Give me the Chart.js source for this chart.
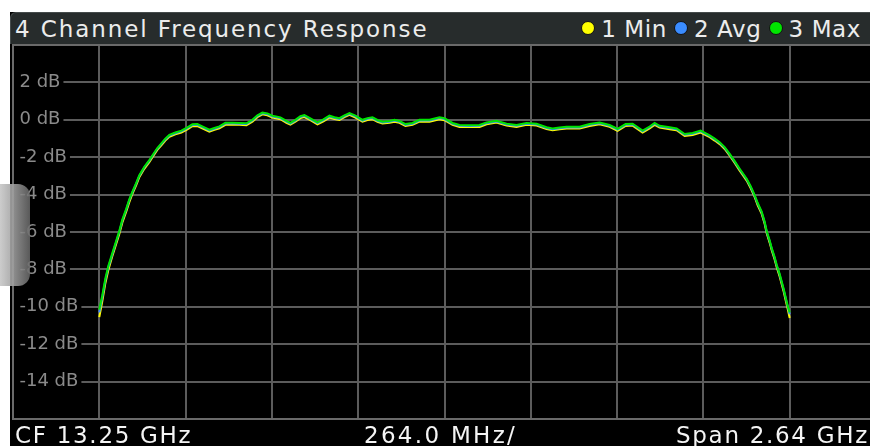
<!DOCTYPE html>
<html>
<head>
<meta charset="utf-8">
<title>4 Channel Frequency Response</title>
<script src="https://cdn.jsdelivr.net/npm/chart.js@4.4.1/dist/chart.umd.min.js"></script>
<style>
  html, body { margin: 0; padding: 0; width: 870px; height: 446px; overflow: hidden; background: #fff; font-family: "DejaVu Sans", sans-serif; }
  #panel { position: absolute; left: 10px; top: 12px; width: 880px; height: 434px; background: #000; }
  #titleBar { position: absolute; left: 10px; top: 12px; width: 880px; height: 31px; background: #272c2c;
    border-top: 1px solid #454b4b; border-left: 1px solid #454b4b; border-top-left-radius: 6px; z-index: 3; }
  .hdr { position: absolute; top: 18px; font-size: 23px; line-height: 23px; color: #ececec; white-space: nowrap; z-index: 4; }
  #title { left: 15px; letter-spacing: 1.9px; }
  #legend { right: 9px; letter-spacing: 0.6px; }
  #legend .dot { display: inline-block; width: 12px; height: 12px; border-radius: 50%; border: 1px solid #111; margin: 0 6px 0 7px; vertical-align: 2px; }
  #chartBox { position: absolute; left: 0; top: 0; width: 890px; height: 446px; z-index: 2; }
  .foot { position: absolute; top: 424px; font-size: 23px; line-height: 23px; color: #f4f4f4; white-space: nowrap; letter-spacing: 1.7px; z-index: 4; }
  #cf { left: 15px; }
  #div { left: 364px; letter-spacing: 2.3px; }
  #span { right: 1px; }
  #tab { position: absolute; left: 0; top: 184px; width: 30px; height: 102px; border-radius: 0 12px 12px 0;
    background: linear-gradient(to right, rgba(200,200,200,0.92), rgba(105,105,105,0.85)); z-index: 5; }
</style>
</head>
<body>
<div id="panel"></div>
<div id="titleBar"></div>
<div class="hdr" id="title">4 Channel Frequency Response</div>
<div class="hdr" id="legend"></div>
<div id="chartBox"><canvas id="fresp"></canvas></div>
<div class="foot" id="cf">CF 13.25 GHz</div>
<div class="foot" id="div">264.0 MHz/</div>
<div class="foot" id="span">Span 2.64 GHz</div>
<div id="tab"></div>

<script>
// trace data (frequency in GHz, level in dB)
const freqGHz = [12.1940, 12.2032, 12.2124, 12.2215, 12.2338, 12.2445, 12.2552, 12.2644, 12.2766, 12.2858,
  12.2950, 12.3073, 12.3164, 12.3317, 12.3470, 12.3562, 12.3715, 12.3838, 12.3960, 12.4083,
  12.4266, 12.4450, 12.4634, 12.4787, 12.4940, 12.5123, 12.5307, 12.5460, 12.5613, 12.5797,
  12.6011, 12.6225, 12.6440, 12.6623, 12.6776, 12.6929, 12.7082, 12.7235, 12.7480, 12.7664,
  12.7786, 12.7939, 12.8092, 12.8215, 12.8398, 12.8613, 12.8796, 12.8980, 12.9133, 12.9286,
  12.9439, 12.9592, 12.9776, 12.9990, 13.0143, 13.0296, 13.0449, 13.0602, 13.0817, 13.0970,
  13.1123, 13.1306, 13.1521, 13.1735, 13.2041, 13.2347, 13.2500, 13.2745, 13.2959, 13.3265,
  13.3571, 13.3786, 13.4092, 13.4398, 13.4704, 13.5010, 13.5316, 13.5622, 13.5806, 13.6020,
  13.6234, 13.6632, 13.6938, 13.7245, 13.7551, 13.7796, 13.8040, 13.8255, 13.8561, 13.8775,
  13.8928, 13.9081, 13.9387, 13.9601, 13.9846, 14.0091, 14.0336, 14.0612, 14.0765, 14.0918,
  14.1071, 14.1224, 14.1377, 14.1530, 14.1744, 14.1867, 14.1989, 14.2081, 14.2203, 14.2295,
  14.2356, 14.2448, 14.2509, 14.2601, 14.2662, 14.2754, 14.2815, 14.2877, 14.2938, 14.2999,
  14.3060];

const minDb = [-10.55, -9.7, -8.75, -8.05, -7.3, -6.7, -6.1, -5.5, -4.9, -4.4,
  -3.98, -3.48, -3.07, -2.62, -2.27, -2.01, -1.61, -1.36, -1.11, -0.91,
  -0.78, -0.68, -0.51, -0.34, -0.33, -0.48, -0.63, -0.54, -0.45, -0.27,
  -0.27, -0.27, -0.29, -0.1, 0.14, 0.29, 0.24, 0.12, 0.03, -0.16,
  -0.26, -0.1, 0.09, 0.15, -0.02, -0.24, -0.08, 0.12, 0.04, -0.01,
  0.14, 0.26, 0.12, -0.1, -0.01, 0.03, -0.11, -0.2, -0.16, -0.1,
  -0.16, -0.33, -0.27, -0.1, -0.1, 0.03, -0.02, -0.27, -0.38, -0.39,
  -0.38, -0.24, -0.15, -0.31, -0.38, -0.27, -0.31, -0.5, -0.56, -0.51,
  -0.47, -0.47, -0.33, -0.24, -0.38, -0.59, -0.33, -0.31, -0.68, -0.46,
  -0.27, -0.42, -0.5, -0.56, -0.86, -0.81, -0.68, -0.93, -1.11, -1.3,
  -1.56, -1.92, -2.31, -2.72, -3.25, -3.66, -4.14, -4.57, -5.03, -5.57,
  -6.07, -6.58, -6.98, -7.48, -7.88, -8.39, -8.79, -9.2, -9.66, -10.12,
  -10.6];

const avgDb = [-10.3, -9.5, -8.6, -7.9, -7.2, -6.6, -6.0, -5.4, -4.8, -4.3,
  -3.9, -3.4, -3.0, -2.55, -2.2, -1.95, -1.55, -1.3, -1.05, -0.85,
  -0.72, -0.62, -0.45, -0.28, -0.27, -0.42, -0.57, -0.48, -0.39, -0.2,
  -0.2, -0.21, -0.23, -0.04, 0.2, 0.35, 0.3, 0.18, 0.09, -0.1,
  -0.2, -0.04, 0.15, 0.21, 0.04, -0.18, -0.02, 0.18, 0.1, 0.05,
  0.2, 0.32, 0.18, -0.04, 0.05, 0.09, -0.05, -0.14, -0.1, -0.04,
  -0.1, -0.27, -0.21, -0.04, -0.04, 0.09, 0.04, -0.21, -0.32, -0.33,
  -0.32, -0.18, -0.09, -0.25, -0.32, -0.21, -0.25, -0.44, -0.5, -0.45,
  -0.41, -0.41, -0.27, -0.18, -0.32, -0.53, -0.27, -0.25, -0.62, -0.4,
  -0.21, -0.36, -0.44, -0.5, -0.8, -0.75, -0.62, -0.87, -1.05, -1.24,
  -1.5, -1.86, -2.25, -2.66, -3.19, -3.6, -4.08, -4.5, -4.96, -5.5,
  -6.0, -6.5, -6.9, -7.4, -7.8, -8.3, -8.7, -9.1, -9.55, -10.0,
  -10.4];

const maxDb = [-10.15, -9.38, -8.5, -7.82, -7.13, -6.54, -5.94, -5.34, -4.75, -4.25,
  -3.85, -3.36, -2.96, -2.51, -2.16, -1.91, -1.51, -1.26, -1.01, -0.81,
  -0.68, -0.58, -0.41, -0.24, -0.23, -0.38, -0.53, -0.44, -0.35, -0.16,
  -0.16, -0.17, -0.19, 0.0, 0.24, 0.39, 0.34, 0.22, 0.13, -0.06,
  -0.16, 0.0, 0.19, 0.25, 0.08, -0.14, 0.02, 0.22, 0.14, 0.09,
  0.24, 0.36, 0.22, 0.0, 0.09, 0.13, -0.01, -0.1, -0.06, 0.0,
  -0.06, -0.23, -0.17, 0.0, 0.0, 0.13, 0.08, -0.17, -0.28, -0.29,
  -0.28, -0.14, -0.05, -0.21, -0.28, -0.17, -0.21, -0.4, -0.46, -0.41,
  -0.37, -0.37, -0.23, -0.14, -0.28, -0.49, -0.23, -0.21, -0.58, -0.36,
  -0.17, -0.32, -0.4, -0.46, -0.76, -0.71, -0.58, -0.83, -1.01, -1.2,
  -1.46, -1.82, -2.21, -2.62, -3.15, -3.55, -4.03, -4.45, -4.91, -5.45,
  -5.95, -6.45, -6.85, -7.35, -7.75, -8.25, -8.65, -9.05, -9.5, -9.95,
  -10.3];

const seriesLabels = ['1 Min', '2 Avg', '3 Max'];
const seriesColors = ['#ffff00', '#3a8cff', '#00e400'];

// 264 MHz per division, CF 13.25 GHz, span 2.64 GHz
const xGridGHz = [11.930, 12.194, 12.458, 12.722, 12.986, 13.250, 13.514, 13.778, 14.042, 14.306, 14.570];
const yTicksDb = [-16, -14, -12, -10, -8, -6, -4, -2, 0, 2, 4];

// header legend
const legendEl = document.getElementById('legend');
seriesLabels.forEach((lbl, i) => {
  const dot = document.createElement('span');
  dot.className = 'dot';
  dot.style.background = seriesColors[i];
  legendEl.appendChild(dot);
  legendEl.appendChild(document.createTextNode(lbl));
});

function toPoints(ys) {
  return freqGHz.map((f, i) => ({ x: f, y: ys[i] }));
}

// outer frame drawn last, over the grid and label backdrops
const framePlugin = {
  id: 'frame',
  afterDraw(chart) {
    const { ctx, chartArea: a } = chart;
    ctx.save();
    ctx.strokeStyle = '#6a6a6a';
    ctx.lineWidth = 2;
    ctx.strokeRect(a.left, a.top, a.right - a.left, a.bottom - a.top);
    ctx.restore();
  }
};

const traces = [minDb, avgDb, maxDb];

const ctx = document.getElementById('fresp').getContext('2d');
const chart = new Chart(ctx, {
  type: 'line',
  data: {
    datasets: traces.map((ys, i) => ({
      label: seriesLabels[i],
      data: toPoints(ys),
      borderColor: seriesColors[i],
      backgroundColor: seriesColors[i],
      borderWidth: 2,
      pointRadius: 0,
      tension: 0,
      fill: false,
      order: 2 - i
    }))
  },
  options: {
    responsive: true,
    maintainAspectRatio: false,
    animation: false,
    // the mirrored y axis still takes 2 x tick padding (13px) on the left
    layout: { padding: { left: 0, top: 45, right: 14, bottom: 27 } },
    plugins: {
      legend: { display: false },
      tooltip: { enabled: false }
    },
    scales: {
      x: {
        type: 'linear',
        min: xGridGHz[0],
        max: xGridGHz[xGridGHz.length - 1],
        afterBuildTicks: scale => { scale.ticks = xGridGHz.map(v => ({ value: v })); },
        ticks: { display: false },
        grid: { color: '#5c5c5c', lineWidth: 2, drawTicks: false },
        border: { display: false }
      },
      y: {
        min: yTicksDb[0],
        max: yTicksDb[yTicksDb.length - 1],
        afterBuildTicks: scale => { scale.ticks = yTicksDb.map(v => ({ value: v })); },
        ticks: {
          mirror: true,
          padding: 6.5,
          color: '#8a8a8a',
          font: { family: 'DejaVu Sans', size: 18 },
          showLabelBackdrop: true,
          backdropColor: c => (c.tick && (c.tick.value === 4 || c.tick.value === -16)) ? 'rgba(0,0,0,0)' : '#000',
          backdropPadding: { left: 8, right: 3, top: 0, bottom: 0 },
          callback: v => (v === 4 || v === -16) ? '' : v + ' dB'
        },
        grid: { color: '#5c5c5c', lineWidth: 2, drawTicks: false },
        border: { display: false }
      }
    }
  },
  plugins: [framePlugin]
});
</script>
</body>
</html>
